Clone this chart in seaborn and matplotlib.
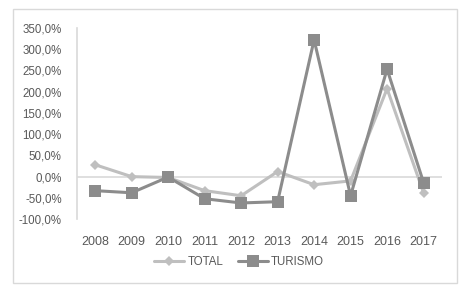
import pandas as pd
import matplotlib.pyplot as plt
import seaborn as sns
from matplotlib.patches import FancyBboxPatch
from matplotlib.ticker import FuncFormatter

years = ['2008', '2009', '2010', '2011', '2012', '2013', '2014', '2015', '2016', '2017']
total = [28, 0, -2, -33, -45, 12, -19, -10, 207, -38]
turismo = [-33, -38, -1, -52, -62, -59, 322, -45, 253, -14]

df = pd.DataFrame({'year': years * 2,
                   'value': total + turismo,
                   'serie': ['TOTAL'] * 10 + ['TURISMO'] * 10})
df['x'] = list(range(10)) * 2

sns.set_style('white')
plt.rcParams['font.family'] = ['Liberation Sans', 'DejaVu Sans']

fig = plt.figure(figsize=(4.69, 2.91), dpi=100)
ax = fig.add_axes([0.164, 0.247, 0.778, 0.657])

fig.patches.append(FancyBboxPatch((13 / 469, 8 / 291), 444 / 469, 274 / 291,
                                  boxstyle='square,pad=0', transform=fig.transFigure,
                                  fill=False, edgecolor='#d9d9d9', linewidth=1))

colors = {'TOTAL': '#bfbfbf', 'TURISMO': '#8c8c8c'}
sns.lineplot(data=df, x='x', y='value', hue='serie', style='serie',
             markers={'TOTAL': 'D', 'TURISMO': 's'}, dashes=False,
             palette=colors, linewidth=2.2, ax=ax, legend=False)
for line, ms in zip(ax.lines, [5, 8]):
    line.set_markersize(ms)
    line.set_markeredgewidth(0)

ax.axhline(0, color='#d9d9d9', linewidth=1.2, zorder=0)
ax.set_ylim(-100, 350)
ax.set_yticks(range(-100, 351, 50))
ax.yaxis.set_major_formatter(FuncFormatter(lambda v, p: f'{v:.1f}%'.replace('.', ',')))
ax.set_xlim(-0.5, 9.5)
ax.set_xticks(range(10))
ax.set_xticklabels(years)
ax.tick_params(axis='y', labelsize=8.3, colors='#595959', length=0, pad=11)
ax.tick_params(axis='x', labelsize=9, colors='#595959', length=0, pad=12)
for s in ['top', 'right', 'bottom']:
    ax.spines[s].set_visible(False)
ax.spines['left'].set_color('#d9d9d9')
ax.spines['left'].set_linewidth(1.2)
ax.set_xlabel('')
ax.set_ylabel('')

handles = [plt.Line2D([], [], color=colors['TOTAL'], marker='D', markersize=5, lw=2.2, markeredgewidth=0),
           plt.Line2D([], [], color=colors['TURISMO'], marker='s', markersize=8, lw=2.2, markeredgewidth=0)]
fig.legend(handles, ['TOTAL', 'TURISMO'], loc='center', bbox_to_anchor=(0.51, 0.1),
           ncol=2, frameon=False, fontsize=8.3, labelcolor='#595959',
           handlelength=2.6, columnspacing=1.2, handletextpad=0.3)

plt.savefig('out.png', dpi=100)
